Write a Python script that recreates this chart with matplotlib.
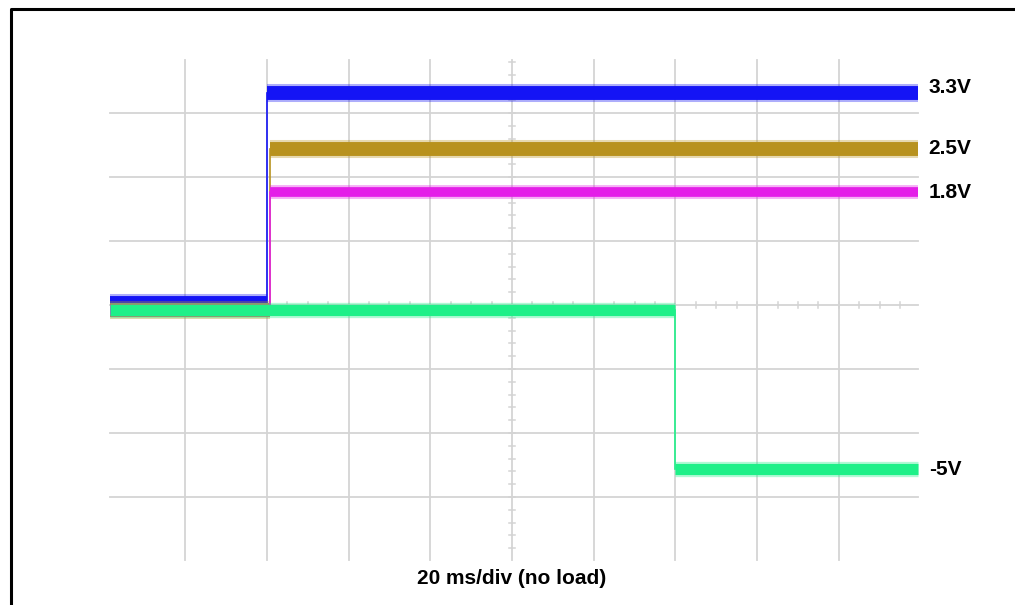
import matplotlib
matplotlib.use('Agg')
from matplotlib import pyplot as plt
from matplotlib.lines import Line2D
import numpy as np

# time axis in divisions (20 ms/div), levels in divisions
ch_names = ['3.3V', '2.5V', '1.8V', '-5V']
ch_colors = ['#1414f5', '#b8921e', '#e41ee8', '#1ef088']
ch_widths = [10, 10, 7, 8]

# breakpoints (div) and level held after each breakpoint
t_33 = [-4.92, -3.0, 4.97]
v_33 = [0.03, 3.31]
t_25 = [-4.92, -2.96, 4.97]
v_25 = [-0.08, 2.44]
t_18 = [-4.92, -2.96, 4.97]
v_18 = [-0.08, 1.76]
t_n5 = [-4.92, 2.0, 4.97]
v_n5 = [-0.08, -2.57]

label_y = [3.4, 2.45, 1.75, -2.57]

W, H = 1015, 605
fig = plt.figure(figsize=(W / 100, H / 100), dpi=100)
ax = fig.add_axes([103.5 / W, 44 / H, 817 / W, 512 / H])
ax.set_xlim(-5, 5)
ax.set_ylim(-4, 4)
ax.axis('off')

grid_c = '#d4d4d4'
# graticule
for gx in range(-4, 5):
    ax.plot([gx, gx], [-3.98, 3.83], color=grid_c, lw=1.3, zorder=1)
for gy in range(-3, 4):
    ax.plot([-4.92, 4.97], [gy, gy], color=grid_c, lw=1.3, zorder=1)

# minor ticks on the centre axes
for tx in np.arange(-4.75, 5.0, 0.25):
    ax.plot([tx, tx], [-0.05, 0.05], color=grid_c, lw=1.1, zorder=1)
for ty in np.arange(-3.8, 3.9, 0.2):
    ax.plot([-0.04, 0.04], [ty, ty], color=grid_c, lw=1.1, zorder=1)

traces = [(t_33, v_33), (t_25, v_25), (t_18, v_18), (t_n5, v_n5)]
order = [3, 2, 1, 0]
for i in order:
    t, v = traces[i]
    c = ch_colors[i]
    for k in range(len(v)):
        # fuzzy noise band then solid core
        ax.plot([t[k], t[k + 1]], [v[k], v[k]], color=c, lw=ch_widths[i] + 3,
                alpha=0.35, solid_capstyle='butt', zorder=2 + i)
        ax.plot([t[k], t[k + 1]], [v[k], v[k]], color=c, lw=ch_widths[i],
                solid_capstyle='butt', zorder=2 + i)
    for k in range(1, len(v)):
        ax.plot([t[k], t[k]], [v[k - 1], v[k]], color=c, lw=1.2, zorder=2 + i)

for i in range(4):
    ax.text(5.1, label_y[i], ch_names[i], fontsize=15, fontweight='bold',
            family='Liberation Sans', va='center', ha='left')

fig.text(512 / W, 1 - 578 / H, '20 ms/div (no load)', fontsize=15,
         fontweight='bold', family='Liberation Sans', ha='center', va='center')

# frame (left and top edge only)
fig.add_artist(Line2D([11 / W, 11 / W, 1.0], [0, 1 - 9 / H, 1 - 9 / H],
                      color='black', lw=2.2))

fig.savefig('out.png', dpi=100)
